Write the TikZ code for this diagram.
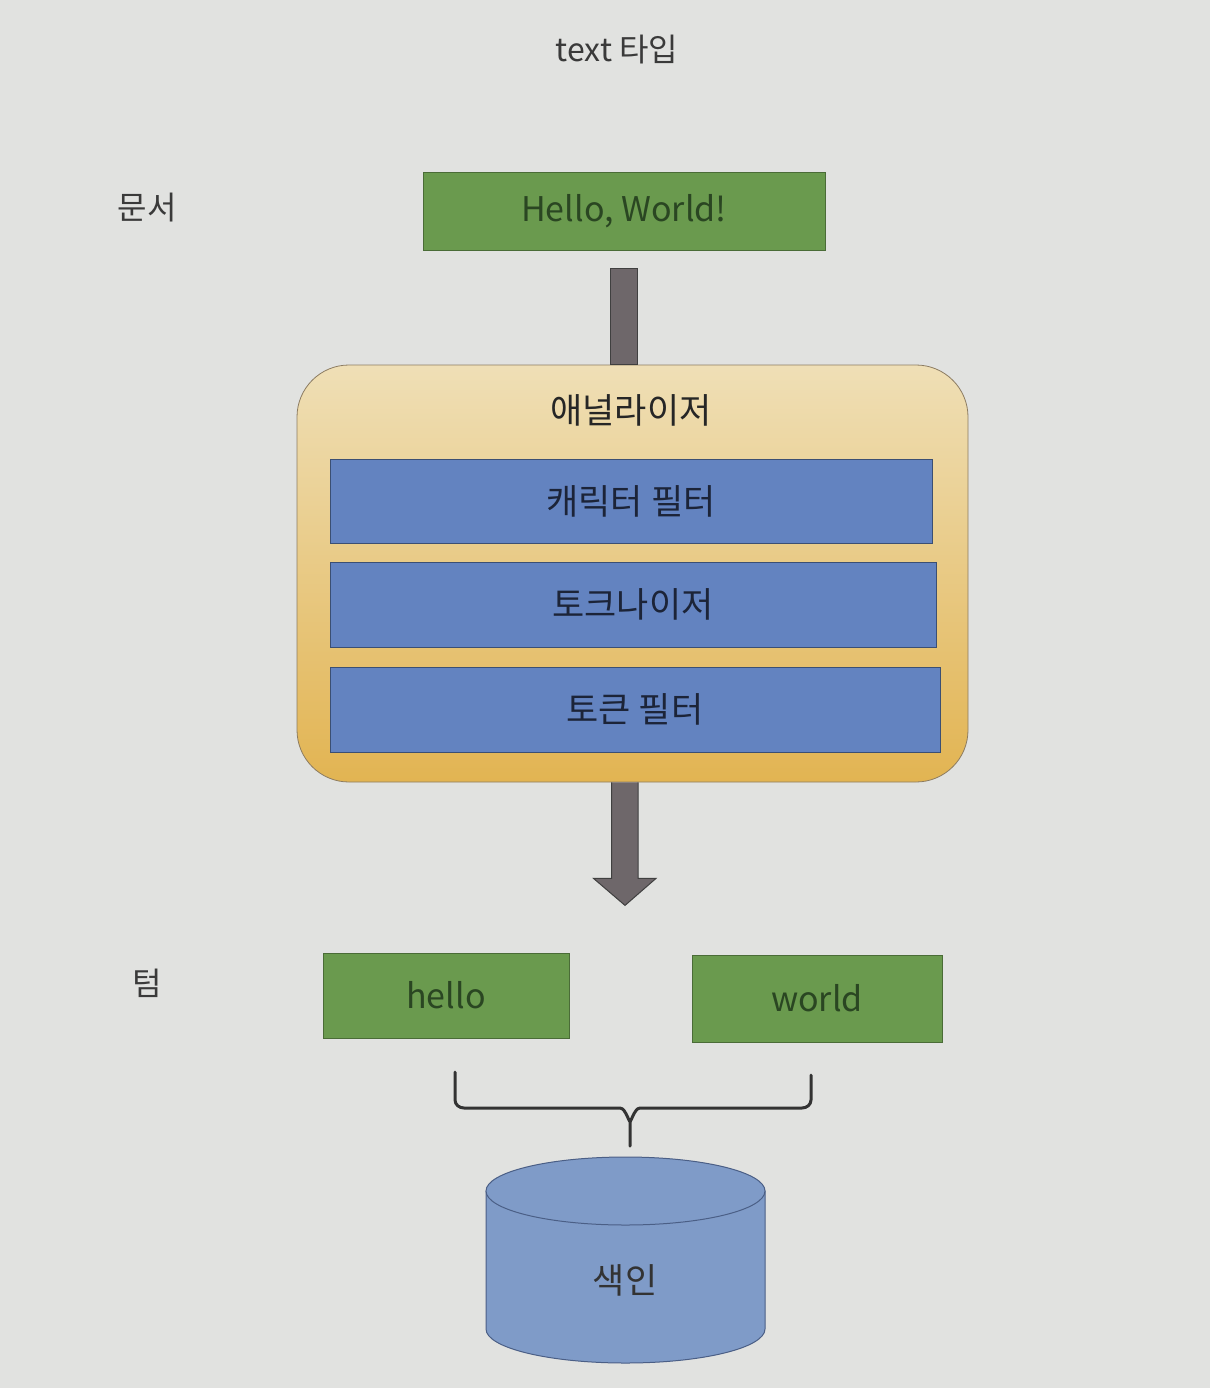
\documentclass[tikz,border=0pt]{standalone}
\usepackage{fontspec}
\setmainfont{Noto Sans CJK KR}
\usetikzlibrary{calc}
\definecolor{bg}{HTML}{E1E2E0}
\definecolor{grn}{HTML}{6A9A4E}
\definecolor{grntxt}{HTML}{2A4622}
\definecolor{blu}{HTML}{6383C0}
\definecolor{blutxt}{HTML}{1C2438}
\definecolor{antop}{HTML}{EFDFB6}
\definecolor{anbot}{HTML}{E2B452}
\definecolor{anedge}{HTML}{8C7C62}
\definecolor{shaft}{HTML}{6E676A}
\definecolor{cyl}{HTML}{7F9BC8}
\definecolor{cyledge}{HTML}{4B5F86}
\definecolor{lbl}{HTML}{3A3A3A}
\begin{document}
\begin{tikzpicture}[x=1pt,y=-1pt,
  lab/.style={text=lbl,font=\fontsize{32}{38}\selectfont},
  greenbox/.style={rectangle,fill=grn,draw=grn!70!black,line width=0.5pt,text=grntxt,font=\fontsize{34}{40}\selectfont,inner sep=0pt},
  bluebox/.style={rectangle,fill=blu,draw=blu!60!black,line width=0.6pt,text=blutxt,font=\fontsize{35}{40}\selectfont,inner sep=0pt},
  arrowbody/.style={fill=shaft,draw=black!75,line width=1pt},
  bracestyle/.style={draw=black!80,line width=3pt,line join=round,line cap=round}]
\fill[bg] (0,0) rectangle (1210,1388);
\useasboundingbox (0,0) rectangle (1210,1388);

\node[lab] (title) at (617,50) {text 타입};
\node[lab] (doclab) at (147,208) {문서};
\node[lab] (termlab) at (147,983) {텀};

\node[greenbox,minimum width=402pt,minimum height=78pt] (hw) at (624,211) {Hello, World!};

\node[rectangle,rounded corners=52pt,minimum width=671pt,minimum height=417pt,
      top color=antop,bottom color=anbot,draw=anedge,line width=0.8pt] (analyzer) at (632.5,573.5) {};
\node[text=black!85,font=\fontsize{35}{40}\selectfont] (anlab) at (631,410) {애널라이저};

\node[bluebox,minimum width=602pt,minimum height=84pt] (cf) at (631,501) {캐릭터 필터};
\node[bluebox,minimum width=606pt,minimum height=85pt] (tk) at (633,604.5) {토크나이저};
\node[bluebox,minimum width=610pt,minimum height=85pt] (tf) at (635,709.5) {토큰 필터};

% arrow 1 (shaft only)
\coordinate (a1s) at ($(hw.south)+(0,18)$);
\coordinate (a1e) at (a1s |- analyzer.north);
\draw[arrowbody] ($(a1s)+(-13.5,0)$) rectangle ($(a1e)+(13.5,0)$);

% arrow 2
\coordinate (a2s) at (hw.south |- analyzer.south);
\coordinate (a2t) at ($(a2s)+(1,123)$);
\draw[arrowbody,line join=miter] ($(a2s)+(-12.5,0)$) -- ++(0,96) -- ++(-18,0) -- (a2t)
  -- ($(a2s)+(32,96)$) -- ++(-18,0) -- ($(a2s)+(14,0)$);

\node[greenbox,minimum width=246pt,minimum height=85pt] (hello) at (446,995.5) {hello};
\node[greenbox,minimum width=250pt,minimum height=87pt] (world) at (817,998.5) {world};

% brace
\coordinate (bl) at (455,1072);
\coordinate (br) at (811,1075);
\coordinate (btip) at (630,1146);
\draw[bracestyle] (bl) -- (455,1100) to[out=-90,in=180] (464,1108) -- (620,1108)
  to[out=0,in=-90] (630,1120) -- (btip);
\draw[bracestyle] (br) -- (811,1100) to[out=-90,in=0] (802,1108) -- (640,1108)
  to[out=180,in=-90] (630,1120);

% cylinder (index)
\draw[fill=cyl,draw=cyledge,line width=1pt] (486,1191) -- (486,1329)
  arc[start angle=180,end angle=0,x radius=139.5,y radius=34] -- (765,1191) -- cycle;
\draw[fill=cyl,draw=cyledge,line width=1pt] (625.5,1191) ellipse[x radius=139.5,y radius=34];
\node[text=black!80,font=\fontsize{35}{40}\selectfont] (idx) at (625,1280) {색인};
\end{tikzpicture}
\end{document}
